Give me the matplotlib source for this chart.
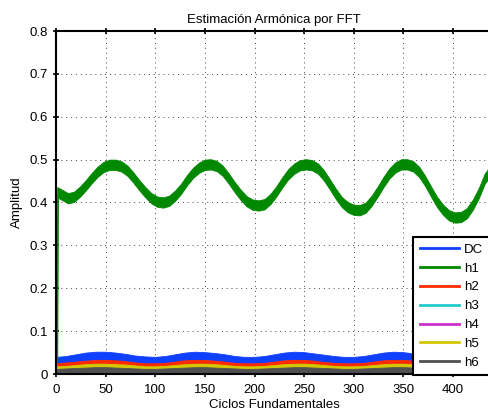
import matplotlib
matplotlib.use("Agg")
import matplotlib.pyplot as plt
from matplotlib.lines import Line2D

plt.rcParams["font.family"] = ["Liberation Sans", "DejaVu Sans"]

# ---- data -----------------------------------------------------------------
# h1: envelope of the fast oscillation (upper / lower edge of the green band)
h1_t = [0, 1.2, 2, 6, 12, 18, 24, 30, 36, 42, 48, 54, 60, 66, 72, 78, 84, 90, 96,
        102, 108, 114, 120, 126, 132, 138, 144, 150, 156, 162, 168, 174, 180, 186,
        192, 198, 204, 210, 216, 222, 228, 234, 240, 246, 252, 258, 264, 270, 276,
        282, 288, 294, 300, 306, 312, 318, 324, 330, 336, 342, 348, 354, 360, 366,
        372, 378, 384, 390, 396, 402, 408, 414, 420, 426, 432, 438, 440]
h1_hi = [0.0, 0.436, 0.435, 0.430, 0.422, 0.425, 0.437, 0.452, 0.469, 0.484, 0.495,
         0.500, 0.500, 0.496, 0.486, 0.470, 0.452, 0.436, 0.422, 0.414, 0.412,
         0.416, 0.428, 0.444, 0.464, 0.481, 0.493, 0.500, 0.501, 0.497, 0.486,
         0.468, 0.448, 0.430, 0.415, 0.407, 0.405, 0.408, 0.420, 0.438, 0.459,
         0.478, 0.491, 0.499, 0.501, 0.499, 0.491, 0.475, 0.454, 0.432, 0.413,
         0.401, 0.395, 0.394, 0.400, 0.416, 0.437, 0.460, 0.480, 0.494, 0.501,
         0.501, 0.496, 0.483, 0.462, 0.437, 0.413, 0.395, 0.382, 0.377, 0.378,
         0.387, 0.407, 0.434, 0.468, 0.486, 0.492]
h1_lo = [0.0, 0.0, 0.411, 0.406, 0.398, 0.401, 0.413, 0.428, 0.445, 0.460, 0.471,
         0.476, 0.476, 0.472, 0.462, 0.446, 0.428, 0.412, 0.398, 0.390, 0.388,
         0.392, 0.404, 0.420, 0.440, 0.457, 0.469, 0.476, 0.477, 0.473, 0.462,
         0.444, 0.424, 0.406, 0.391, 0.383, 0.381, 0.384, 0.396, 0.414, 0.435,
         0.454, 0.467, 0.475, 0.477, 0.475, 0.467, 0.451, 0.430, 0.408, 0.389,
         0.377, 0.371, 0.370, 0.376, 0.392, 0.413, 0.436, 0.456, 0.470, 0.477,
         0.477, 0.472, 0.459, 0.438, 0.413, 0.389, 0.371, 0.358, 0.353, 0.354,
         0.363, 0.383, 0.410, 0.444, 0.462, 0.468]

# small components, sampled every 10 cycles
lo_t = [1, 10, 20, 30, 40, 50, 60, 70, 80, 90, 100, 110, 120, 130, 140, 150, 160,
        170, 180, 190, 200, 210, 220, 230, 240, 250, 260, 270, 280, 290, 300, 310,
        320, 330, 340, 350, 360, 370, 380, 390, 400, 410, 420, 430, 440]
dc_hi = [0.040, 0.042, 0.046, 0.050, 0.052, 0.052, 0.050, 0.047, 0.043, 0.041,
         0.040, 0.042, 0.046, 0.050, 0.052, 0.051, 0.049, 0.046, 0.042, 0.040,
         0.040, 0.042, 0.046, 0.050, 0.052, 0.051, 0.048, 0.045, 0.042, 0.040,
         0.040, 0.042, 0.046, 0.050, 0.052, 0.051, 0.048, 0.045, 0.042, 0.040,
         0.040, 0.042, 0.046, 0.050, 0.052]
dc_lo = [0.021, 0.023, 0.025, 0.027, 0.029, 0.029, 0.028, 0.026, 0.023, 0.021,
         0.021, 0.022, 0.025, 0.028, 0.029, 0.029, 0.027, 0.025, 0.022, 0.021,
         0.021, 0.022, 0.025, 0.028, 0.029, 0.029, 0.027, 0.024, 0.022, 0.021,
         0.021, 0.022, 0.025, 0.028, 0.029, 0.029, 0.027, 0.024, 0.022, 0.021,
         0.021, 0.022, 0.025, 0.028, 0.029]
h2_hi = [0.025, 0.027, 0.029, 0.031, 0.033, 0.033, 0.032, 0.030, 0.027, 0.025,
         0.025, 0.026, 0.029, 0.032, 0.033, 0.033, 0.031, 0.029, 0.026, 0.025,
         0.025, 0.026, 0.029, 0.032, 0.033, 0.033, 0.031, 0.028, 0.026, 0.025,
         0.025, 0.026, 0.029, 0.032, 0.033, 0.033, 0.031, 0.028, 0.026, 0.025,
         0.025, 0.026, 0.029, 0.032, 0.033]
h2_lo = [0.014, 0.015, 0.017, 0.019, 0.020, 0.020, 0.019, 0.018, 0.016, 0.014,
         0.014, 0.015, 0.017, 0.019, 0.020, 0.020, 0.019, 0.017, 0.015, 0.014,
         0.014, 0.015, 0.017, 0.019, 0.020, 0.020, 0.019, 0.017, 0.015, 0.014,
         0.014, 0.015, 0.017, 0.019, 0.020, 0.020, 0.019, 0.017, 0.015, 0.014,
         0.014, 0.015, 0.017, 0.019, 0.020]
h3_hi = [0.014, 0.015, 0.016, 0.017, 0.018, 0.018, 0.017, 0.016, 0.015, 0.014,
         0.014, 0.015, 0.016, 0.017, 0.018, 0.018, 0.017, 0.016, 0.015, 0.014,
         0.014, 0.015, 0.016, 0.017, 0.018, 0.018, 0.017, 0.016, 0.015, 0.014,
         0.014, 0.015, 0.016, 0.017, 0.018, 0.018, 0.017, 0.016, 0.015, 0.014,
         0.014, 0.015, 0.016, 0.017, 0.018]
h3_lo = [0.006] * len(lo_t)
h4_hi = [0.011, 0.012, 0.013, 0.014, 0.015, 0.015, 0.014, 0.013, 0.012, 0.011,
         0.011, 0.012, 0.013, 0.014, 0.015, 0.015, 0.014, 0.013, 0.012, 0.011,
         0.011, 0.012, 0.013, 0.014, 0.015, 0.015, 0.014, 0.013, 0.012, 0.011,
         0.011, 0.012, 0.013, 0.014, 0.015, 0.015, 0.014, 0.013, 0.012, 0.011,
         0.011, 0.012, 0.013, 0.014, 0.015]
h4_lo = [0.004] * len(lo_t)
h5_hi = [0.018, 0.019, 0.021, 0.023, 0.024, 0.024, 0.023, 0.022, 0.020, 0.018,
         0.018, 0.019, 0.021, 0.023, 0.024, 0.024, 0.023, 0.021, 0.019, 0.018,
         0.018, 0.019, 0.021, 0.023, 0.024, 0.024, 0.023, 0.021, 0.019, 0.018,
         0.018, 0.019, 0.021, 0.023, 0.024, 0.024, 0.023, 0.021, 0.019, 0.018,
         0.018, 0.019, 0.021, 0.023, 0.024]
h5_lo = [0.008, 0.009, 0.010, 0.011, 0.012, 0.012, 0.011, 0.010, 0.009, 0.008,
         0.008, 0.009, 0.010, 0.011, 0.012, 0.012, 0.011, 0.010, 0.009, 0.008,
         0.008, 0.009, 0.010, 0.011, 0.012, 0.012, 0.011, 0.010, 0.009, 0.008,
         0.008, 0.009, 0.010, 0.011, 0.012, 0.012, 0.011, 0.010, 0.009, 0.008,
         0.008, 0.009, 0.010, 0.011, 0.012]
h6_hi = [0.012, 0.013, 0.014, 0.015, 0.016, 0.016, 0.015, 0.014, 0.013, 0.012,
         0.012, 0.013, 0.014, 0.015, 0.016, 0.016, 0.015, 0.014, 0.013, 0.012,
         0.012, 0.013, 0.014, 0.015, 0.016, 0.016, 0.015, 0.014, 0.013, 0.012,
         0.012, 0.013, 0.014, 0.015, 0.016, 0.016, 0.015, 0.014, 0.013, 0.012,
         0.012, 0.013, 0.014, 0.015, 0.016]
h6_lo = [0.0] * len(lo_t)

labels = ["DC", "h1", "h2", "h3", "h4", "h5", "h6"]
colors = ["#1040ff", "#008800", "#ff2a00", "#22cccc", "#cc33cc", "#d2c800", "#505050"]
xticks = [0, 50, 100, 150, 200, 250, 300, 350, 400]
yticks = [0, 0.1, 0.2, 0.3, 0.4, 0.5, 0.6, 0.7, 0.8]

# ---- figure ---------------------------------------------------------------
fig = plt.figure(figsize=(4.88, 4.11), dpi=100)
ax = fig.add_axes([56 / 488, 37 / 411, 436.7 / 488, 343 / 411])

bands = [(lo_t, dc_lo, dc_hi), (h1_t, h1_lo, h1_hi), (lo_t, h2_lo, h2_hi),
         (lo_t, h3_lo, h3_hi), (lo_t, h4_lo, h4_hi), (lo_t, h5_lo, h5_hi),
         (lo_t, h6_lo, h6_hi)]
for (t, lo, hi), c in zip(bands, colors):
    ax.fill_between(t, lo, hi, color=c, lw=0.6, zorder=2)

ax.set_xlim(0, 440)
ax.set_ylim(0, 0.8)
ax.set_xticks(xticks)
ax.set_yticks(yticks)
ax.set_yticklabels(["0" if v == 0 else f"{v:g}" for v in yticks])
ax.grid(True, color="#444444", linestyle=(0, (1, 4)), linewidth=0.7)
for g in ax.get_xgridlines() + ax.get_ygridlines():
    g.set_zorder(1)
for s in ax.spines.values():
    s.set_linewidth(1.5)
    s.set_zorder(5)
ax.tick_params(direction="inout", length=5, width=1.2, top=True, right=True,
               labelsize=9.5)
ax.tick_params(axis="x", pad=4.5)
ax.tick_params(axis="y", pad=3)

ax.set_title("Estimación Armónica por FFT", fontsize=9.5, pad=6)
ax.set_xlabel("Ciclos Fundamentales", fontsize=9.5, labelpad=2.5)
ax.set_ylabel("Amplitud", fontsize=9.5, labelpad=5)

handles = [Line2D([], [], color=c, lw=2) for c in colors]
leg = fig.legend(handles, labels, loc="upper left",
                 bbox_to_anchor=(413 / 488, 1 - 237 / 411), fontsize=9.5,
                 frameon=True, fancybox=False, borderpad=0.5, handlelength=3.0,
                 handletextpad=0.35, labelspacing=0.5, borderaxespad=0)
leg.get_frame().set_edgecolor("black")
leg.get_frame().set_linewidth(1.5)
leg.get_frame().set_alpha(1)

fig.savefig("out.png", dpi=100)
